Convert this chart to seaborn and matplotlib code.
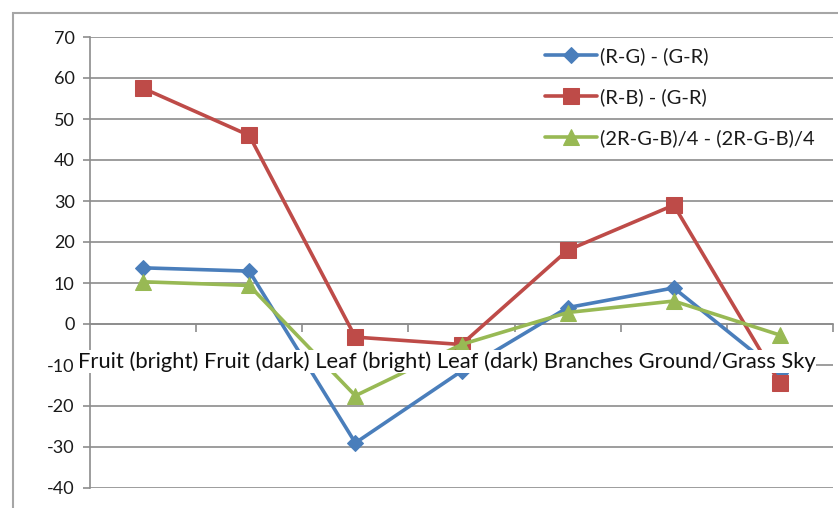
import matplotlib
matplotlib.use("Agg")
import matplotlib.pyplot as plt
import pandas as pd
import seaborn as sns
from matplotlib.patches import Rectangle

CATEGORIES = ["Fruit (bright)", "Fruit (dark)", "Leaf (bright)", "Leaf (dark)",
              "Branches", "Ground/Grass", "Sky"]
SERIES_NAMES = ["(R-G) - (G-R)", "(R-B) - (G-R)", "(2R-G-B)/4 - (2R-G-B)/4"]
RG_VALUES = [13.7, 12.9, -29, -11.5, 4, 8.8, -12]
RB_VALUES = [57.5, 46, -3.2, -5, 18, 29, -14.5]
RGB4_VALUES = [10.3, 9.4, -17.5, -5, 2.8, 5.6, -2.7]
Y_TICKS = list(range(-40, 71, 10))

COLORS = {SERIES_NAMES[0]: "#4A7EBB", SERIES_NAMES[1]: "#BE4B48", SERIES_NAMES[2]: "#98B954"}
MARKERS = {SERIES_NAMES[0]: "D", SERIES_NAMES[1]: "s", SERIES_NAMES[2]: "^"}
SIZES = {SERIES_NAMES[0]: 8.5, SERIES_NAMES[1]: 11.5, SERIES_NAMES[2]: 11}


def main() -> None:
    sns.set_style("white")
    plt.rcParams["font.family"] = ["Lato", "DejaVu Sans"]
    plt.rcParams["axes.unicode_minus"] = False

    rows = []
    for name, vals in zip(SERIES_NAMES, [RG_VALUES, RB_VALUES, RGB4_VALUES]):
        for i, v in enumerate(vals):
            rows.append({"pos": i, "value": v, "series": name})
    df = pd.DataFrame(rows)

    fig = plt.figure(figsize=(8.38, 5.08), dpi=100)
    ax = fig.add_axes([90 / 838, 1 - 488 / 508, 743 / 838, 451 / 508])

    # outer chart frame
    fig.patches.append(Rectangle((13 / 838, -0.1), 1.2, 1 - 13 / 508 + 0.1,
                                 transform=fig.transFigure, fill=False,
                                 edgecolor="#A6A6A6", lw=1.5, zorder=0))

    for name in SERIES_NAMES:
        sub = df[df["series"] == name]
        sns.lineplot(data=sub, x="pos", y="value", ax=ax, color=COLORS[name],
                     marker=MARKERS[name], markersize=SIZES[name],
                     markeredgecolor=COLORS[name], lw=2.6, label=name, zorder=3)

    ax.set_xlim(-0.5, len(CATEGORIES) - 0.5)
    ax.set_ylim(-40, 70)
    ax.set_yticks(Y_TICKS)
    ax.grid(axis="y", color="#8C8C8C", lw=1.2)
    ax.set_xlabel("")
    ax.set_ylabel("")

    for s in ["top", "right"]:
        ax.spines[s].set_visible(False)
    ax.spines["left"].set_color("#8C8C8C")
    ax.spines["left"].set_linewidth(1.2)
    ax.spines["bottom"].set_position(("data", 0))
    ax.spines["bottom"].set_color("#8C8C8C")
    ax.spines["bottom"].set_linewidth(1.2)

    # Excel-style ticks between categories
    ax.set_xticks([i + 0.5 for i in range(len(CATEGORIES))])
    ax.set_xticklabels([])
    ax.tick_params(axis="x", direction="out", length=6, width=1.2, color="#8C8C8C", bottom=True)
    ax.tick_params(axis="y", direction="out", length=5, width=1.2, color="#8C8C8C",
                   left=True, labelsize=13, labelcolor="#1A1A1A", pad=6)

    # category labels run together in one line, as Excel squeezed them
    ax.annotate(" ".join(CATEGORIES), xy=(-0.5, 0), xytext=(-9, -27),
                textcoords="offset points", ha="left", va="center",
                fontsize=15.8, color="#111111", zorder=6, annotation_clip=False,
                bbox=dict(boxstyle="square,pad=0.05", fc="white", ec="none"))

    ax.legend(loc="upper left", bbox_to_anchor=(0.612, 0.978), frameon=False,
              fontsize=14.5, labelspacing=1.15, handlelength=2.6, handletextpad=0.15,
              borderpad=0, borderaxespad=0, labelcolor="#1A1A1A")

    fig.savefig("out.png", dpi=100)
    plt.close(fig)


if __name__ == "__main__":
    main()
